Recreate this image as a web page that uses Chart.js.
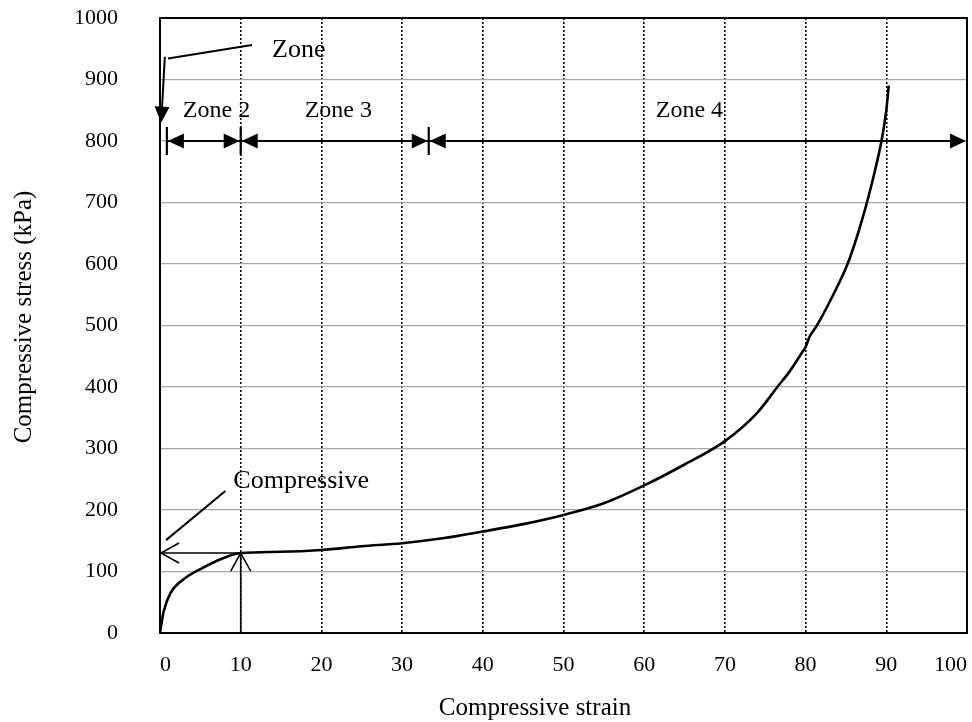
<!DOCTYPE html>
<html>
<head>
<meta charset="utf-8">
<script src="https://cdn.jsdelivr.net/npm/chart.js@4.4.0/dist/chart.umd.min.js"></script>
<style>
    html, body { margin: 0; padding: 0; background: #fff; }
    #wrap { width: 972px; height: 722px; }
</style>
</head>
<body>
<div id="wrap"><canvas id="myChart" width="972" height="722"></canvas></div>
<script>
//curve (strain, stress in kPa)
const strain = [0, 0.45, 1.3, 3.1, 5.3, 7.5, 10, 15, 20, 25, 30, 35, 40, 45, 50, 55, 60, 65, 70, 74, 76.5, 78, 79.5, 80, 80.5, 81.4, 83.5, 85.2, 86.5, 87.6, 88.6, 89.4, 90, 90.3];
const stress = [0, 35, 65, 89, 106, 120, 130, 132, 135, 141, 146, 154, 165, 177, 192, 211, 240, 274, 312, 358, 400, 425, 455, 465, 482, 500, 552, 600, 650, 700, 752, 800, 850, 890];

//axis ticks
const xTicks = [0, 10, 20, 30, 40, 50, 60, 70, 80, 90, 100];
const yTicks = [0, 100, 200, 300, 400, 500, 600, 700, 800, 900, 1000];

//zone bracket at the 800 kPa level
const zoneEdges = [0.85, 10, 33.3, 100];
const zoneLevel = 800;
const zoneNames = ["Zone 2", "Zone 3", "Zone 4"];
const zoneLabelX = [7, 22.1, 65.6];
const zoneLabelY = 850;

//"Zone" callout (zone 1)
const zoneOneLabel = { text: "Zone", x: 17.2, y: 948 };
const zoneOneLeader = [[11.4, 956], [1.0, 934]];
const zoneOneArrow = [[0.6, 937], [0.15, 830]];

//compressive strength callout
const compLabel = { text: "Compressive", x: 17.5, y: 247 };
const compLeader = [[8.1, 231], [0.75, 151]];
const compPoint = [10, 130];

const FONT = '"Liberation Serif", "Times New Roman", serif';

function filledHead(ctx, x, y, ang, len, half) {
    let bx = x - Math.cos(ang) * len, by = y - Math.sin(ang) * len;
    let nx = -Math.sin(ang) * half, ny = Math.cos(ang) * half;
    ctx.beginPath();
    ctx.moveTo(x, y);
    ctx.lineTo(bx + nx, by + ny);
    ctx.lineTo(bx - nx, by - ny);
    ctx.closePath();
    ctx.fill();
}

function openHead(ctx, x, y, ang, len, half) {
    let bx = x - Math.cos(ang) * len, by = y - Math.sin(ang) * len;
    let nx = -Math.sin(ang) * half, ny = Math.cos(ang) * half;
    ctx.beginPath();
    ctx.moveTo(bx + nx, by + ny);
    ctx.lineTo(x, y);
    ctx.lineTo(bx - nx, by - ny);
    ctx.stroke();
}

function line(ctx, pts, xs, ys) {
    ctx.beginPath();
    pts.forEach((p, i) => {
        let px = xs.getPixelForValue(p[0]), py = ys.getPixelForValue(p[1]);
        if (i == 0) ctx.moveTo(px, py); else ctx.lineTo(px, py);
    });
    ctx.stroke();
}

//scale paddings off, so the plot box sits where the layout padding puts it
function noScalePadding(s) {
    s.paddingTop = 0;
    s.paddingBottom = 0;
    s.paddingLeft = 0;
    s.paddingRight = 0;
}

//annotations, frame and axis titles
const annotate = {
    id: "annotate",
    afterDraw(chart) {
        const ctx = chart.ctx;
        const xs = chart.scales.x, ys = chart.scales.y;
        const area = chart.chartArea;
        ctx.save();
        ctx.strokeStyle = "#000";
        ctx.fillStyle = "#000";
        ctx.lineCap = "butt";

        //frame
        ctx.lineWidth = 2;
        ctx.strokeRect(area.left, area.top, area.right - area.left, area.bottom - area.top);

        //zone bracket
        let zy = ys.getPixelForValue(zoneLevel);
        let ex = zoneEdges.map(v => xs.getPixelForValue(v));
        ctx.lineWidth = 2.2;
        ctx.beginPath();
        ctx.moveTo(ex[0], zy);
        ctx.lineTo(ex[3] - 4, zy);
        ctx.stroke();
        for (let i = 0; i < 3; i++) {
            ctx.beginPath();
            ctx.moveTo(ex[i], zy - 14);
            ctx.lineTo(ex[i], zy + 14);
            ctx.stroke();
        }
        for (let i = 0; i < 3; i++) {
            filledHead(ctx, ex[i] + 1, zy, Math.PI, 16, 7.5);
            filledHead(ctx, ex[i + 1] - 1, zy, 0, 16, 7.5);
        }
        ctx.font = "24px " + FONT;
        ctx.textAlign = "center";
        ctx.textBaseline = "middle";
        zoneNames.forEach((n, i) => {
            ctx.fillText(n, xs.getPixelForValue(zoneLabelX[i]), ys.getPixelForValue(zoneLabelY));
        });

        //zone 1 callout
        ctx.font = "26px " + FONT;
        ctx.fillText(zoneOneLabel.text, xs.getPixelForValue(zoneOneLabel.x), ys.getPixelForValue(zoneOneLabel.y));
        ctx.lineWidth = 2;
        line(ctx, zoneOneLeader, xs, ys);
        let a0x = xs.getPixelForValue(zoneOneArrow[0][0]), a0y = ys.getPixelForValue(zoneOneArrow[0][1]);
        let a1x = xs.getPixelForValue(zoneOneArrow[1][0]), a1y = ys.getPixelForValue(zoneOneArrow[1][1]);
        let ang = Math.atan2(a1y - a0y, a1x - a0x);
        ctx.beginPath();
        ctx.moveTo(a0x, a0y);
        ctx.lineTo(a1x - Math.cos(ang) * 12, a1y - Math.sin(ang) * 12);
        ctx.stroke();
        filledHead(ctx, a1x, a1y, ang, 16, 7.5);

        //compressive strength callout
        ctx.fillText(compLabel.text, xs.getPixelForValue(compLabel.x), ys.getPixelForValue(compLabel.y));
        line(ctx, compLeader, xs, ys);
        let cx = xs.getPixelForValue(compPoint[0]), cy = ys.getPixelForValue(compPoint[1]);
        let x0 = xs.getPixelForValue(0), y0 = ys.getPixelForValue(0);
        ctx.lineWidth = 1.6;
        ctx.beginPath();
        ctx.moveTo(cx, cy);
        ctx.lineTo(x0 + 1, cy);
        ctx.moveTo(cx, y0);
        ctx.lineTo(cx, cy);
        ctx.stroke();
        openHead(ctx, x0 + 1, cy, Math.PI, 18, 10);
        openHead(ctx, cx, cy, -Math.PI / 2, 18, 10);

        //axis titles
        ctx.font = "25px " + FONT;
        ctx.textBaseline = "alphabetic";
        ctx.fillText("Compressive strain", 535, 715);
        ctx.translate(31, 317);
        ctx.rotate(-Math.PI / 2);
        ctx.fillText("Compressive stress (kPa)", 0, 0);
        ctx.restore();
    }
};

function makeChart() {
    let ctx = document.getElementById("myChart").getContext("2d");
    let points = strain.map((s, i) => ({ x: s, y: stress[i] }));
    new Chart(ctx, {
        type: "scatter",
        data: {
            datasets: [{
                data: points,
                showLine: true,
                borderColor: "#000",
                borderWidth: 2.6,
                pointRadius: 0,
                cubicInterpolationMode: "monotone",
                fill: false
            }]
        },
        options: {
            responsive: false,
            animation: false,
            layout: { padding: { top: 18, right: 5, left: 0, bottom: 0 } },
            plugins: { legend: { display: false }, tooltip: { enabled: false } },
            scales: {
                x: {
                    type: "linear",
                    min: 0,
                    max: 100,
                    afterFit: s => { s.height = 89; noScalePadding(s); },
                    afterBuildTicks: s => { s.ticks = xTicks.map(v => ({ value: v })); },
                    grid: { color: "#000", lineWidth: 1.6, drawTicks: false },
                    border: { display: true, color: "#000", width: 2, dash: [2, 2] },
                    ticks: { color: "#000", padding: 19, align: "inner", font: { family: FONT, size: 22 }, callback: v => String(v) }
                },
                y: {
                    type: "linear",
                    min: 0,
                    max: 1000,
                    afterFit: s => { s.width = 160; noScalePadding(s); },
                    afterBuildTicks: s => { s.ticks = yTicks.map(v => ({ value: v })); },
                    grid: { color: "#a6a6a6", lineWidth: 1.3, drawTicks: false },
                    border: { display: true, color: "#000", width: 2 },
                    ticks: { color: "#000", padding: 42, font: { family: FONT, size: 22 }, callback: v => String(v) }
                }
            }
        },
        plugins: [annotate]
    });
}
makeChart();
</script>
</body>
</html>
